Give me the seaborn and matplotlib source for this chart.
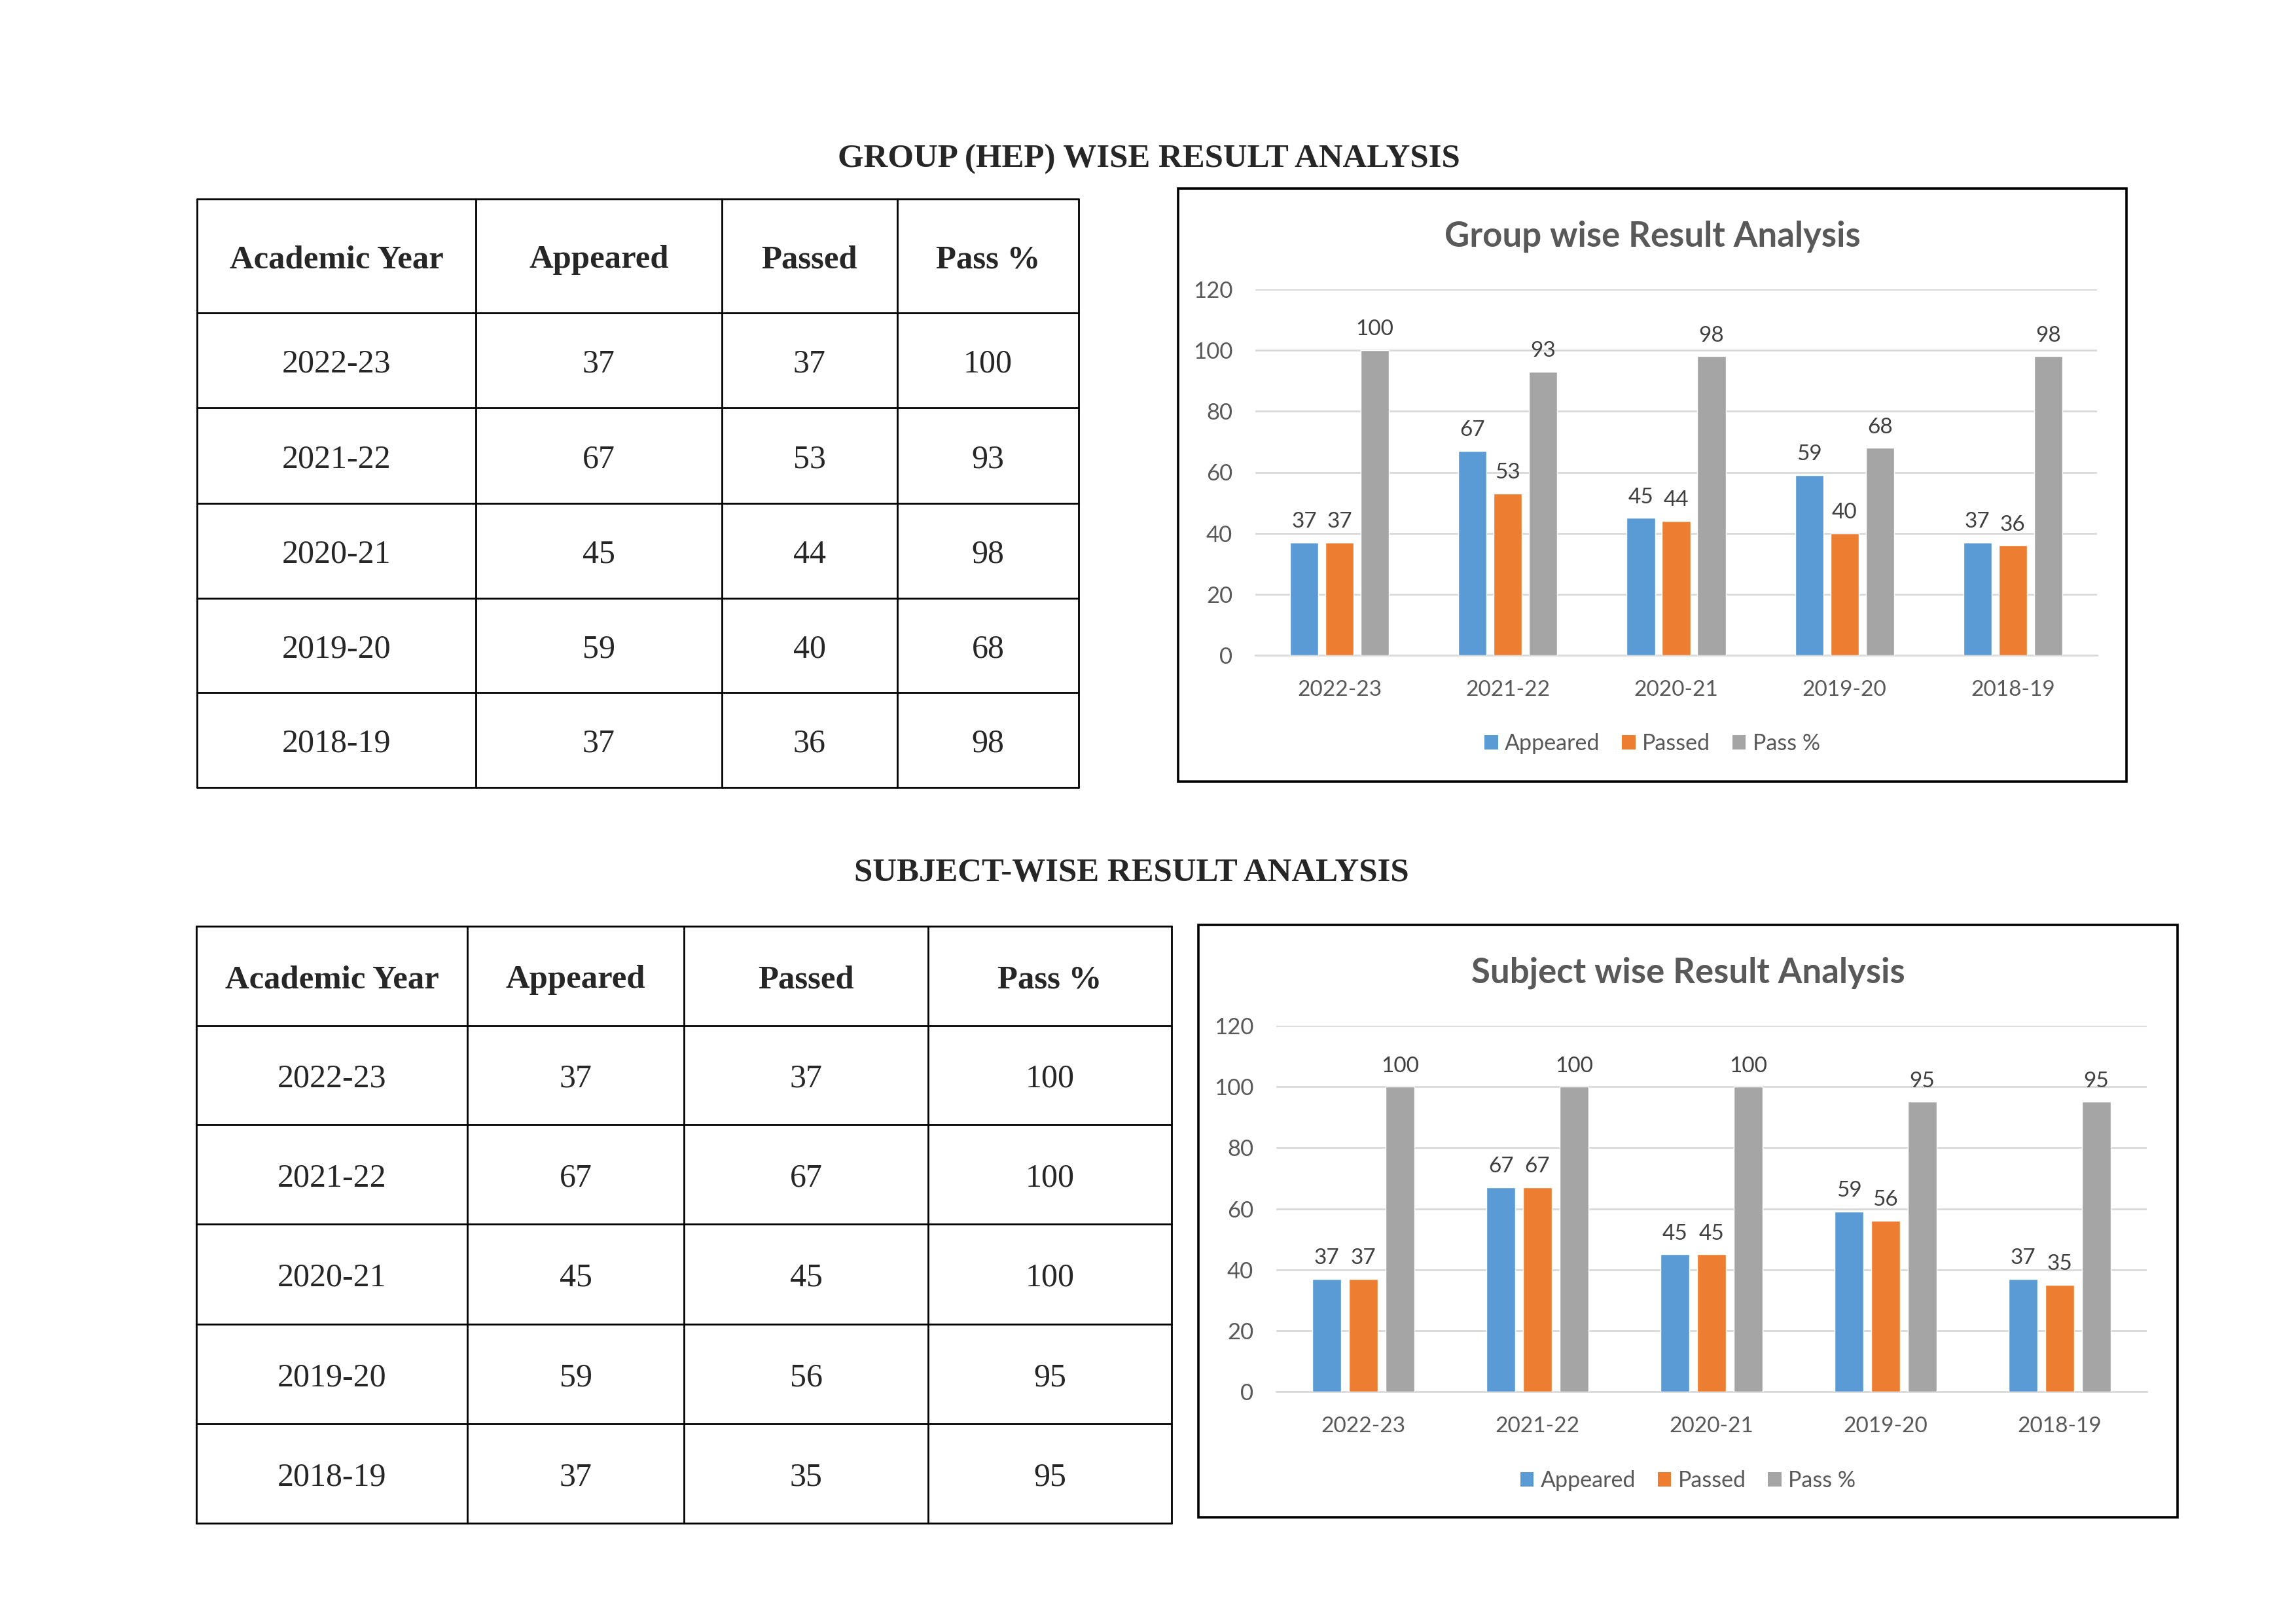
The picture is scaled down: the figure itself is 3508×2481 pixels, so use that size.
import numpy as np
import pandas as pd
import matplotlib
matplotlib.use("Agg")
import matplotlib.pyplot as plt
from matplotlib.patches import Patch, Rectangle
import seaborn as sns

# ---------------- data ----------------
years = ["2022-23", "2021-22", "2020-21", "2019-20", "2018-19"]
series_names = ["Appeared", "Passed", "Pass %"]

group_appeared = [37, 67, 45, 59, 37]
group_passed = [37, 53, 44, 40, 36]
group_pass_pct = [100, 93, 98, 68, 98]

subject_appeared = [37, 67, 45, 59, 37]
subject_passed = [37, 67, 45, 56, 35]
subject_pass_pct = [100, 100, 100, 95, 95]

table_header = ["Academic Year", "Appeared", "Passed", "Pass %"]
section_titles = ["GROUP (HEP) WISE RESULT ANALYSIS", "SUBJECT-WISE RESULT ANALYSIS"]
chart_titles = ["Group wise Result Analysis", "Subject wise Result Analysis"]
y_ticks = [0, 20, 40, 60, 80, 100, 120]

colors = ["#5B9BD5", "#ED7D31", "#A5A5A5"]
TXT = "#595959"

sns.set_style("white")
plt.rcParams["font.family"] = ["Lato", "DejaVu Sans"]

W, H = 3508, 2481
fig = plt.figure(figsize=(W / 100, H / 100), dpi=100)
fig.patch.set_facecolor("white")


def px_rect(x0, y0, x1, y1):
    return [x0 / W, 1 - y1 / H, (x1 - x0) / W, (y1 - y0) / H]


def draw_table(cols, rows, app, pas, pct):
    ax = fig.add_axes(px_rect(cols[0], rows[0], cols[-1], rows[-1]))
    ax.set_xlim(cols[0], cols[-1])
    ax.set_ylim(rows[-1], rows[0])
    ax.axis("off")
    lw = 2.0
    for r in rows:
        ax.plot([cols[0], cols[-1]], [r, r], color="black", lw=lw, clip_on=False)
    for c in cols:
        ax.plot([c, c], [rows[0], rows[-1]], color="black", lw=lw, clip_on=False)
    cx = [(cols[i] + cols[i + 1]) / 2 for i in range(4)]
    cy = [(rows[i] + rows[i + 1]) / 2 + 6 for i in range(6)]
    for i, h in enumerate(table_header):
        ax.text(cx[i], cy[0], h, ha="center", va="center", fontsize=36.5,
                fontweight="bold", family="Liberation Serif")
    for r in range(5):
        vals = [years[r], str(app[r]), str(pas[r]), str(pct[r])]
        for i, v in enumerate(vals):
            ax.text(cx[i], cy[r + 1], v, ha="center", va="center", fontsize=36,
                    family="Liberation Serif")


def draw_chart(box, plot, title, title_y, legend_y, app, pas, pct):
    bx0, by0, bx1, by1 = box
    fig.patches.append(Rectangle((bx0 / W, 1 - by1 / H), (bx1 - bx0) / W, (by1 - by0) / H,
                                 transform=fig.transFigure, fill=False,
                                 edgecolor="black", lw=2.6, zorder=5))
    fig.text((bx0 + bx1) / 2 / W, 1 - title_y / H, title, ha="center", va="center",
             fontsize=38, fontweight="bold", color=TXT)
    ax = fig.add_axes(px_rect(*plot))
    df = pd.DataFrame({
        "Year": years * 3,
        "Series": [s for s in series_names for _ in years],
        "Value": list(app) + list(pas) + list(pct),
    })
    sns.barplot(data=df, x="Year", y="Value", hue="Series", order=years,
                hue_order=series_names, palette=colors, width=0.63, gap=0.2,
                saturation=1, legend=False, ax=ax, zorder=3)
    ax.set_xlim(-0.5, 4.5)
    ax.set_ylim(0, 120)
    ax.set_yticks(y_ticks)
    ax.yaxis.grid(True, color="#D9D9D9", lw=2.0, zorder=0)
    ax.set_axisbelow(True)
    for s in ["top", "right", "left"]:
        ax.spines[s].set_visible(False)
    ax.spines["bottom"].set_color("#D9D9D9")
    ax.spines["bottom"].set_linewidth(2.0)
    ax.set_xlabel("")
    ax.set_ylabel("")
    ax.tick_params(axis="both", length=0, labelsize=24, labelcolor=TXT)
    ax.tick_params(axis="y", labelsize=25, pad=25)
    ax.tick_params(axis="x", pad=27)
    ax.patch.set_alpha(0)
    for cont in ax.containers:
        ax.bar_label(cont, fmt="%g", padding=12, fontsize=24, color="#404040")
    handles = [Patch(facecolor=c, edgecolor="none") for c in colors]
    fig.legend(handles, series_names, loc="center",
               bbox_to_anchor=((bx0 + bx1) / 2 / W, 1 - legend_y / H),
               ncol=3, frameon=False, fontsize=24.5, labelcolor=TXT,
               handlelength=0.6, handleheight=0.6, handletextpad=0.3,
               columnspacing=1.0)


# section titles
fig.text(1755 / W, 1 - 243 / H, section_titles[0], ha="center", va="center",
         fontsize=36.6, fontweight="bold", family="Liberation Serif")
fig.text(1729 / W, 1 - 1334 / H, section_titles[1], ha="center", va="center",
         fontsize=36.6, fontweight="bold", family="Liberation Serif")

# tables
draw_table([301, 727, 1103, 1371, 1648], [304, 478, 623, 769, 914, 1058, 1203],
           group_appeared, group_passed, group_pass_pct)
draw_table([300, 714, 1045, 1418, 1790], [1415, 1567, 1718, 1870, 2023, 2175, 2327],
           subject_appeared, subject_passed, subject_pass_pct)

# charts
draw_chart((1800, 288, 3249, 1194), (1918, 442, 3204, 1001), chart_titles[0], 362, 1136,
           group_appeared, group_passed, group_pass_pct)
draw_chart((1831, 1413, 3327, 2318), (1950, 1567, 3280, 2126), chart_titles[1], 1486, 2262,
           subject_appeared, subject_passed, subject_pass_pct)

fig.savefig("out.png", dpi=100, facecolor="white")
